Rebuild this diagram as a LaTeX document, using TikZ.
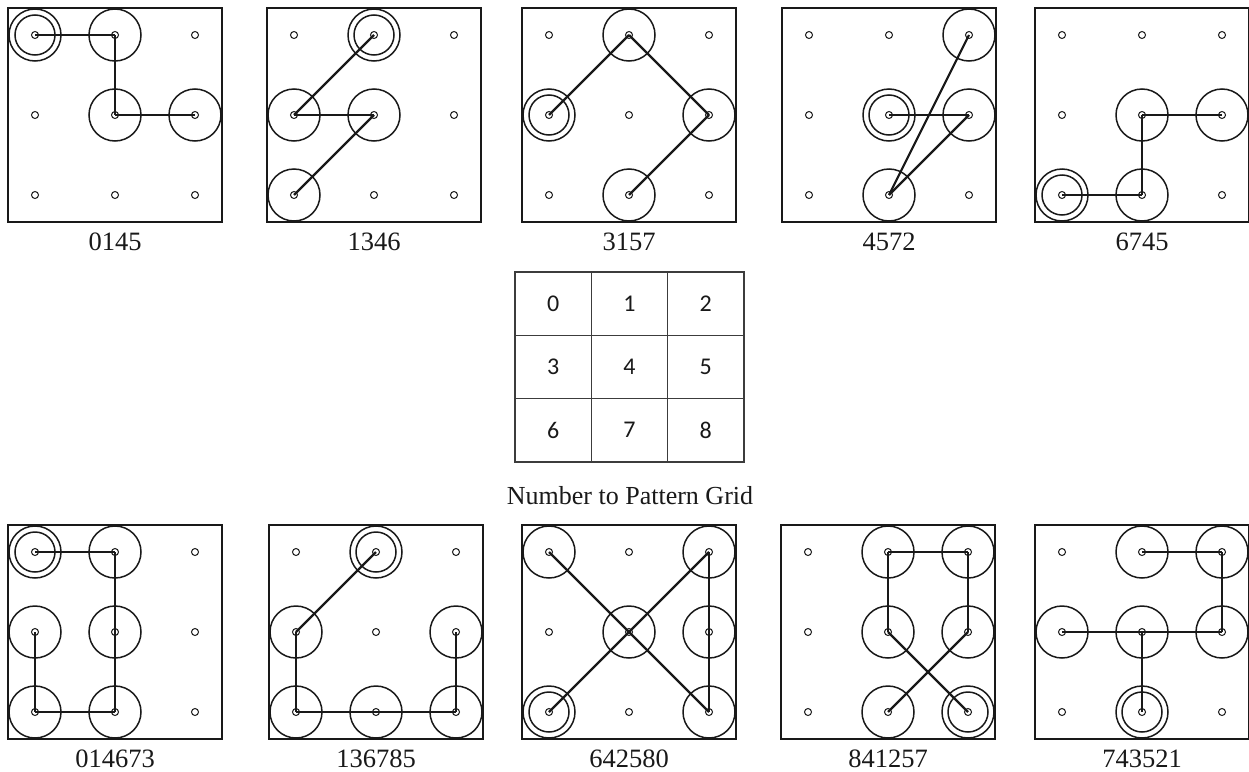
\documentclass[tikz,border=0pt]{standalone}
\usepackage{fontspec}
\setmainfont{Liberation Serif}
\newfontfamily\calib{Carlito}
\colorlet{ink}{black!90}
\tikzset{
  boxline/.style={draw=ink, line width=2.3pt},
  dot/.style={circle, draw=ink, line width=1pt, minimum size=7pt, inner sep=0pt},
  ring/.style={draw=ink, line width=1.5pt},
  pathline/.style={draw=ink, line width=2.2pt},
  lab/.style={font=\fontsize{26.5}{29}\selectfont, text=ink, anchor=base, inner sep=0pt, text depth=0pt},
  cell/.style={draw=ink!85, line width=1.5pt, minimum width=76.3pt, minimum height=63.3pt, inner sep=0pt, font=\calib\fontsize{24}{26}\selectfont, text=ink}
}
% #1 id, #2 left, #3 top, #4 label, #5 path digits
\newcommand\patpanel[5]{%
  \draw[boxline] (#2,#3) rectangle ++(214,214);
  \foreach \k in {0,...,8}{%
    \pgfmathtruncatemacro\cx{mod(\k,3)}%
    \pgfmathtruncatemacro\cy{div(\k,3)}%
    \node[dot] (#1-\k) at ({#2+27+80*\cx},{#3+27+80*\cy}) {};
  }
  \node[lab] (#1-lab) at ({#2+107},{#3+242}) {#4};
  \foreach \d [count=\i, remember=\d as \prev (initially 0)] in {#5}{%
    \ifnum\i=1
      \draw[ring] (#1-\d.center) circle[radius=20pt];
      \draw[ring] (#1-\d.center) circle[radius=26pt];
    \else
      \draw[ring] (#1-\d.center) circle[radius=26pt];
      \draw[pathline] (#1-\prev.center) -- (#1-\d.center);
    \fi
  }
}
\begin{document}
\begin{tikzpicture}[x=1pt,y=-1pt]
\useasboundingbox (0,0) rectangle (1249,771);
\fill[white] (0,0) rectangle (1249,771);
\patpanel{a}{8}{8}{0145}{0,1,4,5}
\patpanel{b}{267}{8}{1346}{1,3,4,6}
\patpanel{c}{522}{8}{3157}{3,1,5,7}
\patpanel{d}{782}{8}{4572}{4,5,7,2}
\patpanel{e}{1035}{8}{6745}{6,7,4,5}
\patpanel{f}{8}{525}{014673}{0,1,4,7,6,3}
\patpanel{g}{269}{525}{136785}{1,3,6,7,8,5}
\patpanel{h}{522}{525}{642580}{6,4,2,5,8,0}
\patpanel{i}{781}{525}{841257}{8,4,1,2,5,7}
\patpanel{j}{1035}{525}{743521}{7,4,3,5,2,1}
% number grid
\foreach \k in {0,...,8}{%
  \pgfmathtruncatemacro\cx{mod(\k,3)}%
  \pgfmathtruncatemacro\cy{div(\k,3)}%
  \node[cell] (g\k) at ({515+38.15+76.3*\cx},{272+31.65+63.3*\cy}) {\k};
}
\node[font=\fontsize{26}{29}\selectfont, text=ink] (cap) at (630,496) {Number to Pattern Grid};
\end{tikzpicture}
\end{document}
